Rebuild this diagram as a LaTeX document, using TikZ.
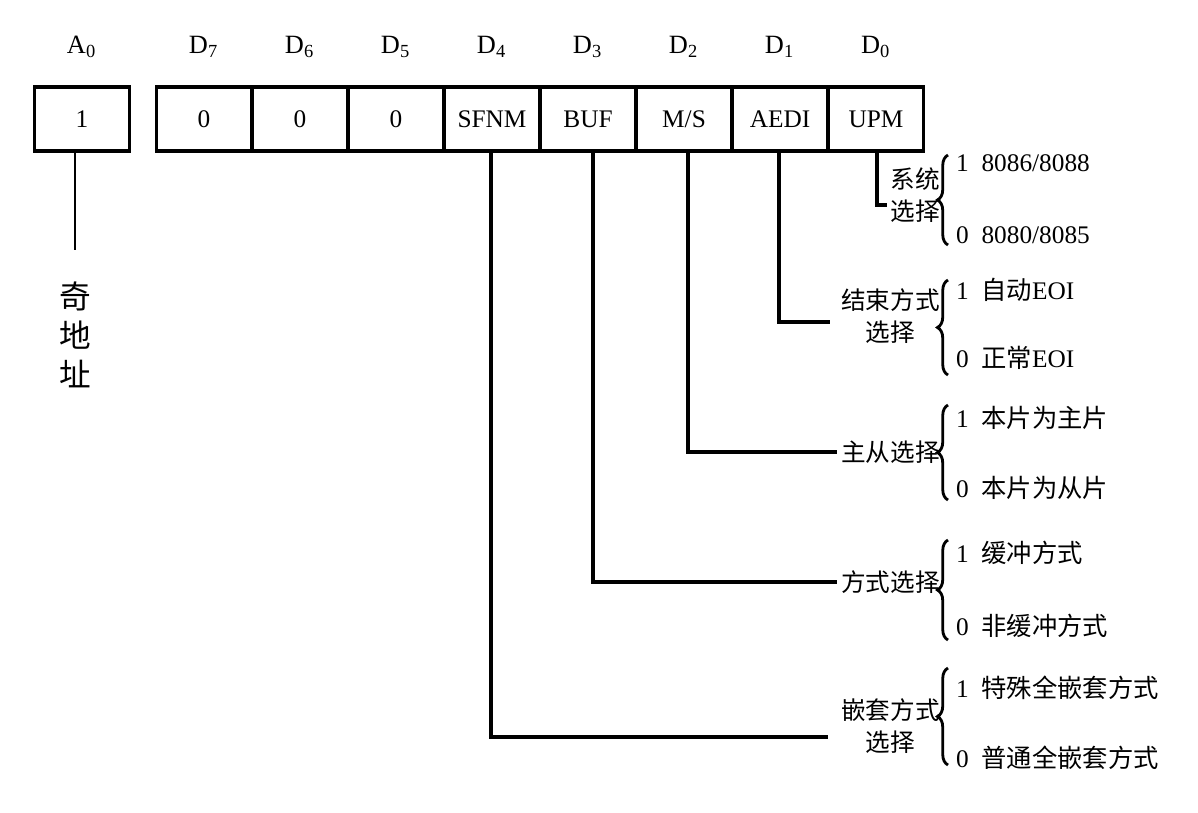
\documentclass[tikz,border=0pt]{standalone}
\usepackage{fontspec}
\setmainfont{Liberation Serif}
\newfontfamily\cjk{Noto Sans CJK SC}
\usetikzlibrary{decorations.pathreplacing}
\begin{document}
\begin{tikzpicture}[
    x=0.01cm, y=-0.01cm,
    cell/.style={draw, line width=1.1pt, minimum width=0.95cm, minimum height=0.64cm, inner sep=0pt},
    lead/.style={line width=1.1pt},
    brc/.style={thick, decorate, decoration={brace, amplitude=3pt}},
    sel/.style={font=\cjk\fontsize{7}{9}\selectfont, align=center, anchor=east, inner sep=1pt},
    opt/.style={anchor=west, font=\fontsize{7.2}{9}\selectfont, inner sep=1pt},
    font=\fontsize{7.2}{9}\selectfont
]
\useasboundingbox (0,0) rectangle (1198,812);

% Cases du registre
\node[cell] (a0) at (82,119) {1};
\node[cell] (d7) at (204,119) {0};
\node[cell] (d6) at (300,119) {0};
\node[cell] (d5) at (396,119) {0};
\node[cell] (d4) at (492,119) {SFNM};
\node[cell] (d3) at (588,119) {BUF};
\node[cell] (d2) at (684,119) {M/S};
\node[cell] (d1) at (780,119) {AEDI};
\node[cell] (d0) at (876,119) {UPM};

% Noms des bits
\foreach \n/\t in {a0/A_0, d7/D_7, d6/D_6, d5/D_5, d4/D_4, d3/D_3, d2/D_2, d1/D_1, d0/D_0}
  \node[font=\fontsize{7.5}{9}\selectfont] at ([yshift=0.72cm]\n.center) {$\mathrm{\t}$};

% Adresse impaire
\coordinate (aend) at (75,250);
\draw[thick] (a0.south -| aend) -- (aend);
\node[font=\cjk\fontsize{9}{10}\selectfont, align=center] (addr) at (75,335) {奇\\[1pt]地\\[1pt]址};

% Libellés de sélection
\node[sel] (s0) at (944,195) {系统\\选择};
\node[sel] (s1) at (944,316) {结束方式\\选择};
\node[sel] (s2) at (944,452) {主从选择};
\node[sel] (s3) at (944,582) {方式选择};
\node[sel] (s4) at (944,726) {嵌套方式\\选择};

% Lignes de rappel
\coordinate (e0) at (887,205);
\coordinate (e1) at (830,322);
\coordinate (e4) at (828,737);
\draw[lead] (d0.south -| 877,0) |- (e0);
\draw[lead] (d1.south -| 779,0) |- (e1);
\draw[lead] (d2.south -| 688,0) |- (s2.west);
\draw[lead] (d3.south -| 593,0) |- (s3.west);
\draw[lead] (d4.south -| 491,0) |- (e4);

% Accolades
\draw[brc] (948,245) -- (948,155);
\draw[brc] (948,375) -- (948,280);
\draw[brc] (948,500) -- (948,405);
\draw[brc] (948,640) -- (948,540);
\draw[brc] (948,765) -- (948,668);

% Options
\node[opt] (o01) at (952,163) {1\ \ 8086/8088};
\node[opt] (o00) at (952,235) {0\ \ 8080/8085};
\node[opt] (o11) at (952,290) {1\ \ {\cjk 自动}EOI};
\node[opt] (o10) at (952,358) {0\ \ {\cjk 正常}EOI};
\node[opt] (o21) at (952,418) {1\ \ {\cjk 本片为主片}};
\node[opt] (o20) at (952,488) {0\ \ {\cjk 本片为从片}};
\node[opt] (o31) at (952,553) {1\ \ {\cjk 缓冲方式}};
\node[opt] (o30) at (952,626) {0\ \ {\cjk 非缓冲方式}};
\node[opt] (o41) at (952,688) {1\ \ {\cjk 特殊全嵌套方式}};
\node[opt] (o40) at (952,758) {0\ \ {\cjk 普通全嵌套方式}};

\end{tikzpicture}
\end{document}
